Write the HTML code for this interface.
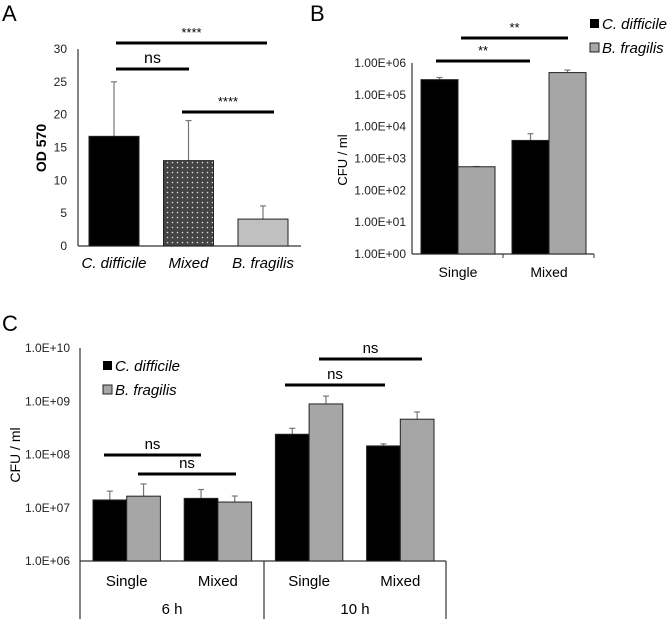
<!DOCTYPE html>
<html><head><meta charset="utf-8"><style>
body{margin:0;background:#fff;}
svg{display:block;font-family:"Liberation Sans",Arial,sans-serif;}
</style></head><body>
<svg id="fig" width="672" height="619" viewBox="0 0 672 619">
<text x="2" y="21" font-size="22">A</text>
<text x="310" y="21" font-size="22">B</text>
<text x="2" y="331" font-size="22">C</text>
<defs>
<pattern id="dots" width="5" height="5" patternUnits="userSpaceOnUse"><rect width="5" height="5" fill="#444"/><circle cx="2.5" cy="2.5" r="0.8" fill="#ddd"/></pattern>
</defs>
<g id="A"></g><g id="B"></g><g id="C"></g>
</svg>
<script>
// Panel A data
const aCats = ["C. difficile","Mixed","B. fragilis"];
const aVals = [16.7, 13.0, 4.1];
const aErr = [25.0, 19.1, 6.1];
const aTicks = [0,5,10,15,20,25,30];
// Panel B data
const bCats = ["Single","Mixed"];
const bCdiff = [3.0e5, 3.7e3];
const bBfrag = [5.5e2, 5.0e5];
const bCdiffErr = [3.5e5, 6.0e3];
const bBfragErr = [5.6e2, 6.0e5];
const bTicks = ["1.00E+00","1.00E+01","1.00E+02","1.00E+03","1.00E+04","1.00E+05","1.00E+06"];
// Panel C data
const cCats = ["Single","Mixed","Single","Mixed"];
const cGroups = ["6 h","10 h"];
const cCdiff = [1.4e7, 1.5e7, 2.4e8, 1.45e8];
const cBfrag = [1.65e7, 1.28e7, 8.9e8, 4.6e8];
const cCdiffErr = [2.05e7, 2.2e7, 3.1e8, 1.58e8];
const cBfragErr = [2.8e7, 1.66e7, 1.25e9, 6.3e8];
const cTicks = ["1.0E+06","1.0E+07","1.0E+08","1.0E+09","1.0E+10"];

const NS="http://www.w3.org/2000/svg";
function mk(parent,tag,attrs,txt){const e=document.createElementNS(NS,tag);for(const k in attrs)e.setAttribute(k,attrs[k]);if(txt!==undefined)e.textContent=txt;parent.appendChild(e);return e;}
function line(p,x1,y1,x2,y2,w,c){return mk(p,"line",{x1,y1,x2,y2,stroke:c||"#000","stroke-width":w||1});}
function errBar(p,x,y0,y1){let l=line(p,x,y0,x,y1,1.2,"#777");line(p,x-3,y1,x+3,y1,1.2,"#777");}
function sig(p,x1,x2,y,t,fs){let l=line(p,x1,y,x2,y,3);let tx=mk(p,"text",{x:(x1+x2)/2,y:y-6,"text-anchor":"middle","font-size":fs||14},t);}

// Panel A
(function(){
const g=document.getElementById("A");
const x0=78,y0=246,ytop=49,xr=301;
const ys=v=>y0-(v/30)*(y0-ytop);
line(g,x0,ytop,x0,y0,1.2,"#333");line(g,x0,y0,xr,y0,1.2,"#333");
aTicks.forEach(t=>{const e=mk(g,"text",{x:67,y:ys(t)+4,"text-anchor":"end","font-size":12,fill:"#222"},t);});
const t=mk(g,"text",{transform:"translate(46,148) rotate(-90)","text-anchor":"middle","font-size":14,"font-weight":"bold"},"OD 570");

const fills=["#000","url(#dots)","#c0c0c0"];
aVals.forEach((v,i)=>{const bx=89+i*74.5,bw=50;
 errBar(g,bx+bw/2,ys(v),ys(aErr[i]));
 const r=mk(g,"rect",{x:bx,y:ys(v),width:bw,height:y0-ys(v),fill:fills[i],stroke:"#222","stroke-width":1});
 
 const l=mk(g,"text",{x:bx+bw/2,y:268,"text-anchor":"middle","font-size":15,"font-style":"italic"},aCats[i]);
 });
sig(g,116,267,43,"****",13);sig(g,116,189,69,"ns",16);sig(g,182,274,112,"****",13);
})();

// Panel B
(function(){
const g=document.getElementById("B");
const x0=412,y0=254,ytop=63,xr=594;
const ys=v=>y0-Math.log10(v)/6*(y0-ytop);
line(g,x0,ytop,x0,y0,1.2,"#333");line(g,x0,y0,xr,y0,1.2,"#333");line(g,503,y0,503,y0+4,1,"#333");line(g,xr,y0,xr,y0+4,1,"#333");
bTicks.forEach((t,i)=>{const e=mk(g,"text",{x:406,y:y0-i*(y0-ytop)/6+4,"text-anchor":"end","font-size":12,fill:"#222"},t);});
const t=mk(g,"text",{transform:"translate(347,160) rotate(-90)","text-anchor":"middle","font-size":13},"CFU / ml");

bCats.forEach((c,i)=>{const gx=421+i*91,bw=37;
 errBar(g,gx+bw/2,ys(bCdiff[i]),ys(bCdiffErr[i]));errBar(g,gx+bw*1.5,ys(bBfrag[i]),ys(bBfragErr[i]));
 let r=mk(g,"rect",{x:gx,y:ys(bCdiff[i]),width:bw,height:y0-ys(bCdiff[i]),fill:"#000",stroke:"#222"});
 r=mk(g,"rect",{x:gx+bw,y:ys(bBfrag[i]),width:bw,height:y0-ys(bBfrag[i]),fill:"#a6a6a6",stroke:"#222"});
 const l=mk(g,"text",{x:gx+bw,y:277,"text-anchor":"middle","font-size":14},c);});
sig(g,461,568,38,"**",13);sig(g,436,530,61,"**",13);
let s=mk(g,"rect",{x:590,y:19,width:9,height:9,fill:"#000"});
let lt=mk(g,"text",{x:602,y:29,"font-size":15,"font-style":"italic"},"C. difficile");
s=mk(g,"rect",{x:590,y:43,width:9,height:9,fill:"#a6a6a6",stroke:"#222"});
lt=mk(g,"text",{x:602,y:53,"font-size":15,"font-style":"italic"},"B. fragilis");
})();

// Panel C
(function(){
const g=document.getElementById("C");
const x0=80,y0=561,ytop=348,xr=446;
const ys=v=>y0-(Math.log10(v)-6)/4*(y0-ytop);
line(g,x0,ytop,x0,619,1.2,"#333");line(g,x0,y0,xr,y0,1.2,"#333");line(g,264,y0,264,619,1.2,"#333");line(g,xr,y0,xr,619,1.2,"#333");
cTicks.forEach((t,i)=>{const e=mk(g,"text",{x:70,y:y0-i*(y0-ytop)/4+4,"text-anchor":"end","font-size":12,fill:"#222"},t);});
const t=mk(g,"text",{transform:"translate(20,455) rotate(-90)","text-anchor":"middle","font-size":14},"CFU / ml");

cCats.forEach((c,i)=>{const gx=93+i*91.2,bw=33.7;
 errBar(g,gx+bw/2,ys(cCdiff[i]),ys(cCdiffErr[i]));errBar(g,gx+bw*1.5,ys(cBfrag[i]),ys(cBfragErr[i]));
 let r=mk(g,"rect",{x:gx,y:ys(cCdiff[i]),width:bw,height:y0-ys(cCdiff[i]),fill:"#000",stroke:"#222"});
 r=mk(g,"rect",{x:gx+bw,y:ys(cBfrag[i]),width:bw,height:y0-ys(cBfrag[i]),fill:"#a6a6a6",stroke:"#222"});
 const l=mk(g,"text",{x:gx+bw,y:586,"text-anchor":"middle","font-size":15},c);});
cGroups.forEach((c,i)=>{const l=mk(g,"text",{x:172+i*183,y:614,"text-anchor":"middle","font-size":15},c);});
sig(g,104,201,455,"ns",15);sig(g,138,236,474,"ns",15);sig(g,285,385,385,"ns",15);sig(g,319,422,359,"ns",15);
let s=mk(g,"rect",{x:103,y:361,width:9,height:9,fill:"#000"});
let lt=mk(g,"text",{x:115,y:371,"font-size":15,"font-style":"italic"},"C. difficile");
s=mk(g,"rect",{x:103,y:385,width:9,height:9,fill:"#a6a6a6",stroke:"#222"});
lt=mk(g,"text",{x:115,y:395,"font-size":15,"font-style":"italic"},"B. fragilis");
})();
</script>
</body></html>
